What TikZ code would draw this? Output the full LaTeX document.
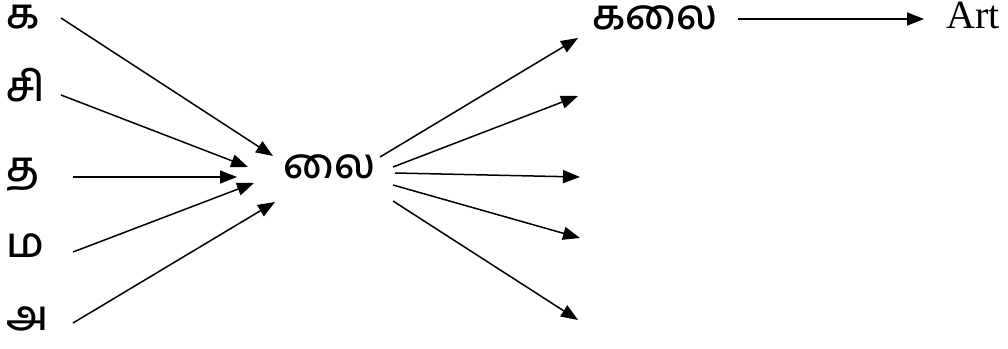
\documentclass[tikz,border=0pt]{standalone}
\usepackage{fontspec}
\newfontfamily\tamilfont[Script=Tamil, UprightFont=* Medium]{Hind Madurai}
\newfontfamily\artfont{Liberation Serif}
\usetikzlibrary{arrows.meta}
\tikzset{
  tam/.style={inner sep=0pt, anchor=base west, font=\tamilfont\fontsize{42}{48}\selectfont},
  lat/.style={inner sep=0pt, anchor=base west, font=\artfont\fontsize{40}{48}\selectfont},
  arr/.style={line width=1.5pt, -{Triangle[length=17pt,width=13pt]}}
}
\begin{document}
\begin{tikzpicture}[x=1pt,y=-1pt]
\useasboundingbox (0,0) rectangle (1008,348);
% left letters
\node[tam] (ka) at (6,28) {க};
\node[tam] (si) at (6,101) {சி};
\node[tam] (tha) at (6,181) {த};
\node[tam] (ma) at (6,257) {ம};
\node[tam] (a) at (6,330) {அ};
% center
\node[tam] (lai) at (283,178) {லை};
% top right
\node[tam] (kalai) at (592,29) {கலை};
\node[lat] (art) at (946,28.5) {Art};
% coordinates
\coordinate (s1) at (61,18);  \coordinate (t1) at (273,156);
\coordinate (s2) at (61,95);  \coordinate (t2) at (248,167);
\coordinate (s3) at (73,177); \coordinate (t3) at (237,177);
\coordinate (s4) at (73,252); \coordinate (t4) at (254,183);
\coordinate (s5) at (73,323); \coordinate (t5) at (275,202);
\coordinate (r1) at (380,157); \coordinate (u1) at (578,38);
\coordinate (r2) at (393,167); \coordinate (u2) at (578,96);
\coordinate (r3) at (395,173); \coordinate (u3) at (580,177);
\coordinate (r4) at (393,185); \coordinate (u4) at (580,238);
\coordinate (r5) at (393,201); \coordinate (u5) at (578,320);
\coordinate (ta) at (738,19); \coordinate (tb) at (924,19);
\draw[arr] (s1) -- (t1);
\draw[arr] (s2) -- (t2);
\draw[arr] (s3) -- (t3);
\draw[arr] (s4) -- (t4);
\draw[arr] (s5) -- (t5);
\draw[arr] (r1) -- (u1);
\draw[arr] (r2) -- (u2);
\draw[arr] (r3) -- (u3);
\draw[arr] (r4) -- (u4);
\draw[arr] (r5) -- (u5);
\draw[arr] (ta) -- (tb);
\end{tikzpicture}
\end{document}
